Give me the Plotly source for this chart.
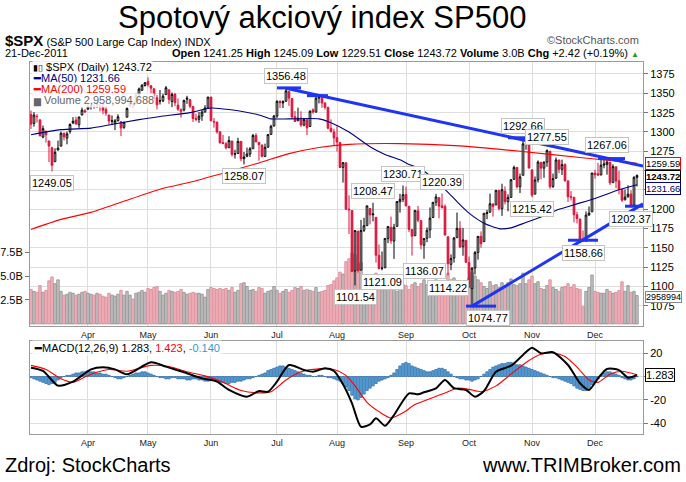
import plotly.graph_objects as go

FONT = "Liberation Sans, Arial, sans-serif"
W, H = 686, 482

# ---------------- data ----------------
trading_days = {
    3: [7, 8, 9, 10, 11, 14, 15, 16, 17, 18, 21, 22, 23, 24, 25, 28, 29, 30, 31],
    4: [1, 4, 5, 6, 7, 8, 11, 12, 13, 14, 15, 18, 19, 20, 21, 25, 26, 27, 28, 29],
    5: [2, 3, 4, 5, 6, 9, 10, 11, 12, 13, 16, 17, 18, 19, 20, 23, 24, 25, 26, 27, 31],
    6: [1, 2, 3, 6, 7, 8, 9, 10, 13, 14, 15, 16, 17, 20, 21, 22, 23, 24, 27, 28, 29, 30],
    7: [1, 5, 6, 7, 8, 11, 12, 13, 14, 15, 18, 19, 20, 21, 22, 25, 26, 27, 28, 29],
    8: [1, 2, 3, 4, 5, 8, 9, 10, 11, 12, 15, 16, 17, 18, 19, 22, 23, 24, 25, 26, 29, 30, 31],
    9: [1, 2, 6, 7, 8, 9, 12, 13, 14, 15, 16, 19, 20, 21, 22, 23, 26, 27, 28, 29, 30],
    10: [3, 4, 5, 6, 7, 10, 11, 12, 13, 14, 17, 18, 19, 20, 21, 24, 25, 26, 27, 28, 31],
    11: [1, 2, 3, 4, 7, 8, 9, 10, 11, 14, 15, 16, 17, 18, 21, 22, 23, 25, 28, 29, 30],
    12: [1, 2, 5, 6, 7, 8, 9, 12, 13, 14, 15, 16, 19, 20, 21],
}
pad_days = ["2011-12-22", "2011-12-23"]
prev_close = 1321.15

opens = [
    1322.70, 1311.05, 1319.92, 1315.72, 1293.43, 1301.19, 1288.46, 1279.46, 1261.61, 1276.71, 1281.65, 1298.29, 1292.19, 1300.61, 1311.80, 1315.45, 1309.37, 1321.89, 1327.44,
    1329.48, 1333.56, 1332.03, 1335.94, 1334.82, 1336.16, 1329.01, 1321.96, 1314.03, 1311.13, 1314.54, 1313.35, 1305.99, 1319.12, 1333.23, 1337.14, 1336.75, 1348.43, 1353.86, 1360.14,
    1365.21, 1359.76, 1355.90, 1344.16, 1340.24, 1340.20, 1348.34, 1354.51, 1339.39, 1348.69, 1334.77, 1326.10, 1328.54, 1342.40, 1342.00, 1333.07, 1317.70, 1316.36, 1320.64, 1325.69, 1331.10,
    1345.20, 1313.64, 1312.94, 1300.26, 1286.31, 1284.63, 1279.63, 1288.26, 1271.31, 1272.22, 1287.87, 1265.53, 1268.58, 1271.50, 1278.40, 1295.48, 1286.60, 1283.04, 1268.44, 1280.21, 1296.85, 1307.64,
    1320.64, 1339.59, 1337.56, 1339.62, 1352.39, 1343.31, 1319.61, 1314.45, 1317.74, 1308.87, 1315.94, 1307.07, 1328.66, 1325.65, 1343.80, 1344.32, 1337.39, 1331.91, 1304.84, 1300.12,
    1292.59, 1286.56, 1254.25, 1260.23, 1200.28, 1198.48, 1120.23, 1171.77, 1121.30, 1172.87, 1178.86, 1201.01, 1192.89, 1189.62, 1140.47, 1123.55, 1124.36, 1162.16, 1176.69, 1158.85, 1177.91, 1209.76, 1213.00,
    1219.12, 1203.90, 1173.97, 1165.85, 1197.98, 1185.37, 1153.50, 1162.59, 1173.32, 1189.44, 1209.21, 1214.99, 1204.50, 1203.63, 1164.55, 1128.82, 1136.91, 1163.32, 1175.39, 1151.74, 1159.93,
    1131.21, 1097.42, 1124.03, 1144.11, 1165.03, 1158.15, 1194.60, 1196.19, 1206.96, 1205.65, 1224.47, 1200.75, 1223.46, 1209.92, 1215.39, 1238.72, 1254.19, 1229.17, 1243.97, 1284.39, 1284.96,
    1251.00, 1219.62, 1238.25, 1260.82, 1253.21, 1261.12, 1275.18, 1229.59, 1240.12, 1263.85, 1251.70, 1257.81, 1236.56, 1216.19, 1215.62, 1192.98, 1187.48, 1161.41, 1158.67, 1192.56, 1196.72,
    1246.91, 1246.03, 1244.33, 1257.19, 1258.14, 1260.87, 1234.48, 1255.05, 1236.83, 1225.73, 1212.12, 1216.09, 1219.74, 1205.72, 1241.25,
]
highs = [
    1327.70, 1325.74, 1323.21, 1315.72, 1308.35, 1301.19, 1288.46, 1280.91, 1278.88, 1288.88, 1300.58, 1299.35, 1300.51, 1311.34, 1319.18, 1319.74, 1319.45, 1331.74, 1329.77,
    1337.85, 1336.74, 1338.21, 1339.38, 1338.80, 1339.46, 1333.77, 1321.96, 1321.35, 1316.79, 1322.88, 1313.35, 1312.70, 1332.66, 1337.49, 1337.55, 1349.55, 1357.49, 1361.71, 1364.56,
    1370.58, 1360.84, 1355.90, 1348.00, 1354.36, 1349.44, 1359.44, 1354.51, 1351.05, 1350.47, 1343.33, 1330.42, 1341.82, 1346.82, 1342.00, 1333.07, 1323.72, 1325.86, 1328.51, 1334.62, 1345.20,
    1345.20, 1318.03, 1312.94, 1300.26, 1296.22, 1287.04, 1294.54, 1288.26, 1277.04, 1292.50, 1287.87, 1274.11, 1279.82, 1280.42, 1297.62, 1298.61, 1286.60, 1283.93, 1284.91, 1296.80, 1309.21, 1321.97,
    1341.01, 1340.89, 1340.94, 1356.48, 1352.39, 1343.31, 1327.17, 1331.48, 1326.88, 1317.70, 1315.94, 1328.14, 1330.43, 1347.00, 1346.10, 1344.32, 1338.51, 1331.91, 1316.32, 1304.16,
    1307.38, 1286.56, 1261.20, 1260.23, 1218.11, 1198.48, 1172.88, 1171.77, 1186.29, 1189.04, 1204.49, 1201.01, 1208.47, 1189.62, 1154.54, 1145.49, 1162.35, 1178.56, 1190.68, 1181.23, 1210.28, 1220.10, 1230.71,
    1229.29, 1203.90, 1173.97, 1198.62, 1204.40, 1185.37, 1162.52, 1176.41, 1202.38, 1209.11, 1220.06, 1214.99, 1220.39, 1206.30, 1164.55, 1141.72, 1164.19, 1195.86, 1184.71, 1175.87, 1159.93,
    1138.99, 1125.12, 1146.07, 1165.55, 1171.40, 1194.91, 1199.24, 1220.25, 1207.46, 1224.61, 1224.47, 1233.10, 1229.64, 1219.36, 1239.03, 1256.55, 1254.19, 1246.28, 1292.66, 1287.08, 1284.96,
    1251.00, 1242.48, 1263.21, 1260.82, 1261.70, 1277.55, 1275.18, 1246.22, 1266.98, 1263.85, 1264.25, 1259.61, 1237.73, 1223.51, 1215.62, 1196.81, 1187.48, 1172.66, 1197.35, 1203.67, 1247.11,
    1251.09, 1260.08, 1266.73, 1266.03, 1267.06, 1260.87, 1258.25, 1255.05, 1249.86, 1225.73, 1225.60, 1231.04, 1224.57, 1242.82, 1245.09,
]
lows = [
    1303.99, 1306.86, 1312.27, 1294.21, 1291.99, 1286.37, 1261.12, 1249.05, 1261.61, 1276.18, 1281.65, 1289.20, 1284.05, 1297.74, 1310.15, 1310.19, 1305.26, 1321.89, 1325.03,
    1328.89, 1329.10, 1330.03, 1331.09, 1326.56, 1322.94, 1321.06, 1309.51, 1309.19, 1302.42, 1313.68, 1294.70, 1303.97, 1319.12, 1332.23, 1331.47, 1336.75, 1344.25, 1353.60, 1358.69,
    1358.59, 1349.52, 1341.50, 1329.17, 1335.58, 1338.64, 1348.34, 1336.36, 1332.03, 1333.36, 1327.32, 1318.51, 1326.59, 1336.36, 1330.67, 1312.88, 1313.87, 1311.80, 1314.41, 1325.69, 1331.10,
    1313.71, 1305.61, 1297.90, 1284.72, 1284.74, 1277.42, 1279.63, 1268.28, 1265.64, 1272.22, 1261.90, 1258.07, 1267.40, 1267.56, 1278.40, 1286.79, 1262.87, 1267.24, 1267.53, 1280.21, 1296.85, 1307.64,
    1318.18, 1330.92, 1330.92, 1339.62, 1333.71, 1316.42, 1313.33, 1314.45, 1306.51, 1307.35, 1295.92, 1307.07, 1323.65, 1325.65, 1336.95, 1331.09, 1329.10, 1303.49, 1299.16, 1282.86,
    1274.73, 1254.03, 1234.56, 1199.54, 1168.09, 1119.28, 1101.54, 1118.01, 1121.30, 1170.74, 1178.86, 1180.53, 1184.36, 1131.03, 1122.05, 1121.09, 1124.36, 1156.30, 1155.47, 1135.91, 1177.91, 1195.77, 1209.35,
    1203.85, 1170.56, 1140.13, 1165.85, 1183.34, 1148.37, 1136.07, 1157.44, 1162.73, 1189.44, 1204.46, 1188.36, 1201.29, 1166.21, 1114.22, 1121.36, 1131.07, 1163.32, 1150.40, 1139.93, 1131.34,
    1098.92, 1074.77, 1115.68, 1134.95, 1150.26, 1158.15, 1187.30, 1196.19, 1190.58, 1205.65, 1198.55, 1191.48, 1206.31, 1197.34, 1215.39, 1238.72, 1226.79, 1221.06, 1243.97, 1277.01, 1253.16,
    1215.42, 1219.62, 1234.81, 1238.92, 1240.75, 1254.99, 1226.64, 1227.70, 1240.12, 1246.68, 1244.34, 1235.67, 1209.43, 1211.36, 1183.16, 1181.65, 1161.79, 1158.66, 1158.67, 1191.80, 1196.72,
    1239.73, 1243.35, 1244.33, 1253.03, 1244.80, 1231.47, 1234.48, 1227.25, 1219.43, 1209.47, 1212.12, 1215.20, 1202.37, 1205.72, 1229.51,
]
closes = [
    1310.13, 1321.82, 1320.02, 1295.11, 1304.28, 1296.39, 1281.87, 1256.88, 1273.72, 1279.20, 1298.38, 1293.77, 1297.54, 1309.66, 1313.80, 1310.19, 1319.44, 1328.26, 1325.83,
    1332.41, 1332.87, 1332.63, 1335.54, 1333.51, 1328.17, 1324.46, 1314.16, 1314.41, 1314.52, 1319.68, 1305.14, 1312.62, 1330.36, 1337.38, 1335.25, 1347.24, 1355.66, 1360.48, 1363.61,
    1361.22, 1356.62, 1347.32, 1335.10, 1340.20, 1346.29, 1357.16, 1342.08, 1348.65, 1337.77, 1329.47, 1328.98, 1340.68, 1343.60, 1333.27, 1317.37, 1316.28, 1320.47, 1325.69, 1331.10, 1345.20,
    1314.55, 1312.94, 1300.16, 1286.17, 1284.94, 1279.56, 1289.00, 1270.98, 1271.83, 1287.87, 1265.42, 1267.64, 1271.50, 1278.36, 1295.52, 1287.14, 1283.50, 1268.45, 1280.10, 1296.67, 1307.41, 1320.64,
    1339.67, 1337.88, 1339.22, 1353.22, 1343.80, 1319.49, 1313.64, 1317.72, 1308.87, 1316.14, 1305.44, 1326.73, 1325.84, 1343.80, 1345.02, 1337.43, 1331.94, 1304.89, 1300.67, 1292.28,
    1286.94, 1254.05, 1260.34, 1200.07, 1199.38, 1119.46, 1172.53, 1120.76, 1172.64, 1178.81, 1204.49, 1192.76, 1193.89, 1140.65, 1123.53, 1123.82, 1162.35, 1177.60, 1159.27, 1176.80, 1210.08, 1212.92, 1218.89,
    1204.42, 1173.97, 1165.24, 1198.62, 1185.90, 1154.23, 1162.27, 1172.87, 1188.68, 1209.11, 1216.01, 1204.09, 1202.09, 1166.76, 1129.56, 1136.43, 1162.95, 1175.38, 1151.06, 1160.40, 1131.42,
    1099.23, 1123.95, 1144.03, 1164.97, 1155.46, 1194.89, 1195.54, 1207.25, 1203.66, 1224.58, 1200.86, 1225.38, 1209.88, 1215.39, 1238.25, 1254.19, 1229.05, 1242.00, 1284.59, 1285.09, 1253.30,
    1218.28, 1237.90, 1261.15, 1253.23, 1261.12, 1275.92, 1229.10, 1239.70, 1263.85, 1251.78, 1257.81, 1236.91, 1216.13, 1215.65, 1192.98, 1188.04, 1161.79, 1158.67, 1192.55, 1195.19, 1246.96,
    1244.58, 1244.28, 1257.08, 1258.47, 1261.01, 1234.35, 1255.19, 1236.47, 1225.73, 1211.82, 1215.75, 1219.66, 1205.35, 1241.30, 1243.72,
]
volume_b = [
    3.6, 3.4, 3.3, 4.0, 3.3, 3.5, 4.5, 4.9, 4.2, 4.6, 3.4, 3.0, 3.1, 3.3, 3.2, 3.0, 3.1, 3.3, 3.4,
    3.2, 3.1, 3.0, 3.2, 3.1, 2.9, 2.8, 3.2, 3.0, 2.9, 3.1, 3.5, 3.0, 3.4, 3.0, 2.6, 3.2, 3.3, 3.5, 3.3,
    3.7, 3.6, 3.8, 3.9, 3.4, 3.0, 3.2, 3.5, 3.4, 3.3, 3.4, 3.6, 3.3, 3.1, 3.2, 3.3, 3.2, 3.2, 3.1, 2.8, 3.6,
    3.8, 3.7, 3.6, 3.7, 3.6, 3.7, 3.5, 3.8, 3.3, 3.5, 4.2, 4.3, 3.9, 3.5, 3.6, 3.4, 3.8, 3.7, 3.2, 3.4, 3.5, 3.9,
    3.5, 3.2, 3.4, 3.6, 3.3, 3.5, 3.8, 3.7, 3.9, 3.5, 3.6, 3.5, 3.4, 3.8, 3.3, 3.4, 3.5, 4.0, 4.1, 4.5,
    4.8, 5.4, 5.2, 6.5, 6.8, 7.4, 7.2, 6.2, 6.4, 4.7, 4.5, 4.8, 4.2, 5.3, 4.9, 4.0, 4.6, 4.4, 4.3, 3.8, 3.4, 3.7, 4.1,
    4.0, 3.6, 4.1, 4.3, 3.9, 4.2, 4.6, 4.1, 4.3, 4.0, 4.6, 4.1, 4.2, 4.5, 5.3, 4.6, 4.8, 4.4, 4.4, 4.5, 4.1,
    4.8, 5.4, 5.0, 4.6, 4.3, 3.9, 3.7, 4.4, 4.0, 4.1, 3.8, 4.3, 4.0, 4.3, 4.7, 4.1, 4.0, 4.2, 5.3, 4.2, 4.6,
    5.0, 4.2, 4.4, 3.7, 3.6, 4.0, 4.6, 3.8, 3.6, 3.4, 3.8, 3.9, 4.2, 3.8, 4.1, 3.7, 3.6, 1.8, 3.4, 3.8, 5.1,
    3.4, 3.3, 3.2, 3.2, 3.6, 3.4, 3.2, 3.3, 3.5, 4.4, 3.4, 4.0, 3.3, 3.4, 2.959,
]
# moving averages (trading-day index, value)
ma50_idx = [0, 10, 20, 26, 36, 43, 53, 60, 66, 76, 80, 86, 96, 100, 106, 113, 118, 123, 126, 130, 134, 139, 143, 146, 151, 156, 160, 165, 170, 176, 182, 188, 195, 202]
ma50_val = [1296.5, 1303, 1305, 1309, 1316, 1320, 1325, 1331, 1329, 1322, 1317, 1317, 1317, 1312, 1300, 1281, 1271, 1264, 1258, 1252, 1240, 1222, 1206, 1195, 1182, 1175, 1176, 1183, 1190, 1200, 1207, 1214, 1224, 1231.66]
ma200_idx = [0, 10, 20, 30, 43, 53, 66, 76, 86, 96, 106, 123, 143, 163, 183, 202]
ma200_val = [1174, 1187, 1196, 1209, 1226, 1235, 1249, 1260, 1272, 1280, 1284, 1285, 1282, 1275, 1267, 1259.59]
# MACD(12,26,9)
macd_idx = [0, 4, 9, 14, 20, 24, 28, 32, 40, 45, 51, 57, 62, 66, 72, 76, 79, 82, 86, 91, 94, 98, 101, 104, 107, 110, 113, 115, 118, 121, 126, 129, 131, 135, 138, 141, 145, 148, 151, 155, 160, 164, 167, 170, 174, 179, 183, 186, 189, 192, 196, 199, 202]
macd_val = [7.5, 4.7, -7.8, -4.4, 6.1, 7.8, 6.1, 1.9, 12.1, 8.4, 3.6, -1.6, -4.4, -11.5, -17.2, -12.4, -13, -4.4, 9.8, 5.6, 4.1, 7, 4.7, -6.7, -22.9, -42.9, -40.9, -35.7, -42, -32.9, -14.4, -15.2, -13.5, -10.1, -3, -10, -11.5, -17.2, -12.4, 4.1, 9.2, 18.4, 24.6, 19.8, 20.7, 9.8, -5.8, -11.5, -1.6, 6.4, 5.5, -1, 1.283]
sig_idx = [0, 5, 10, 14, 20, 26, 32, 40, 46, 52, 58, 64, 70, 76, 80, 85, 90, 96, 101, 105, 108, 112, 116, 120, 124, 128, 133, 138, 142, 146, 150, 155, 160, 165, 170, 174, 178, 182, 186, 189, 193, 197, 202]
sig_val = [9.5, 6, -2, -5, 2, 6, 4.5, 9.5, 8.5, 4, 0.5, -5, -12, -14, -13, -3, 4, 6.5, 6, 1, -8, -22, -30, -35.5, -31, -24, -19, -14, -10, -11, -13, -8, 2, 12, 19, 20, 17, 8, -3, -5, 2, 4.5, 1.423]
hist_val = [
    -1, -2, -3, -4, -5, -6, -7, -6, -5, -3,
    -1, 0, 1, 1, 2,
    3, 3, 4, 4, 5, 4, 4, 3, 3, 2, 2,
    1, 0, -1, -2, -2, -1, 0,
    1, 2, 3, 3, 4, 4, 3, 2,
    1, 0, -1, -1, -2, -2, -1, -1, -2, -2,
    -2, -3, -3, -2, -2, -3, -3, -4, -4, -3,
    -3, -4, -5, -5, -6, -6, -5, -5, -4, -4,
    -3, -2, -2, -1, 0, 1, 2, 3,
    5, 6, 7, 8, 9, 9, 8, 7,
    6, 5, 4, 3, 2, 1,
    1, 0, 0, 1, 1, 0, -1, -1,
    -2, -3, -4, -6,
    -9, -12, -16, -19, -20, -18, -15, -12,
    -10, -8, -6, -4, -3, -2,
    -1, 1, 3, 6, 9, 11, 12, 11,
    9, 8, 7, 6, 5, 4, 4, 5,
    6, 7, 7, 6, 4, 2,
    0, -1, -2, -2, -3, -3,
    -4, -3, -2, 0,
    2, 4, 6, 8, 9, 10,
    11, 11, 12, 12, 11, 10, 10, 9, 8, 7,
    6, 5, 4, 3, 2, 1,
    0, -1, -1, -2, -3, -4,
    -5, -6, -8, -10, -11, -12, -12, -10,
    -7, -5, -2, 1,
    3, 4, 4, 3, 2, 1,
    -1, -2, -3, -3, -2, -0.14,
]
# analyst trend lines (date, price)
trend_lines = [
    (["2011-07-07", "2011-12-23"], [1356.48, 1256.0]),
    (["2011-10-04", "2011-12-23"], [1074.77, 1207.0]),
]
level_marks = [
    ("2011-07-01", "2011-07-14", 1357.0),
    ("2011-07-18", "2011-07-27", 1347.0),
    ("2011-10-20", "2011-11-02", 1292.5),
    ("2011-12-02", "2011-12-15", 1265.6),
    ("2011-09-30", "2011-10-14", 1074.8),
    ("2011-11-17", "2011-12-02", 1160.0),
    ("2011-12-15", "2011-12-23", 1204.0),
]
# peak / trough labels (date, high or low, horizontal nudge in px)
point_labels = [
    ("2011-03-16", "L", 0), ("2011-06-16", "L", 0), ("2011-07-07", "H", 0), ("2011-08-09", "L", 0),
    ("2011-08-17", "H", 0), ("2011-08-22", "L", 0), ("2011-08-31", "H", 0), ("2011-09-12", "L", 0),
    ("2011-09-20", "H", 0), ("2011-09-22", "L", 0), ("2011-10-04", "L", 16), ("2011-10-27", "H", 0),
    ("2011-11-01", "L", 0), ("2011-11-08", "H", 0), ("2011-11-25", "L", 0), ("2011-12-07", "H", 0),
    ("2011-12-19", "L", 0),
]
month_names = ["Apr", "May", "Jun", "Jul", "Aug", "Sep", "Oct", "Nov", "Dec"]
price_ticks = [1075, 1100, 1125, 1150, 1175, 1200, 1225, 1250, 1275, 1300, 1325, 1350, 1375]
price_tick_text = ["1075", "1100", "1125", "1150", "1175", "1200", "1225", "", "1275", "1300", "1325", "1350", "1375"]

# ---------------- derived ----------------
dates = [f"2011-{m:02d}-{d:02d}" for m in sorted(trading_days) for d in trading_days[m]]
categories = dates + pad_days
month_ticks = [f"2011-{m:02d}-{trading_days[m][0]:02d}" for m in range(4, 13)]
prevs = [prev_close] + closes[:-1]
up = [c >= p for c, p in zip(closes, prevs)]
volumes = [v * 1e9 for v in volume_b]
idx_of = {d: i for i, d in enumerate(dates)}

RED = "#dc143c"


def px(x):
    return x / W


def py(y):
    return 1 - y / H


fig = go.Figure()

# volume bars (base y axis)
fig.add_trace(go.Bar(
    x=dates, y=volumes, xaxis="x", yaxis="y",
    marker=dict(color=["#c3c3c3" if u else "#f0b4bc" for u in up],
                line=dict(color=["#8c8c8c" if u else "#d88694" for u in up], width=0.8)),
    hoverinfo="skip", showlegend=False,
))

# moving averages
fig.add_trace(go.Scatter(x=[dates[i] for i in ma200_idx], y=ma200_val, mode="lines",
                         line=dict(color="#ff0000", width=1.1, shape="spline", smoothing=0.6),
                         xaxis="x", yaxis="y2", hoverinfo="skip", showlegend=False))
fig.add_trace(go.Scatter(x=[dates[i] for i in ma50_idx], y=ma50_val, mode="lines",
                         line=dict(color="#000080", width=1.1, shape="spline", smoothing=0.6),
                         xaxis="x", yaxis="y2", hoverinfo="skip", showlegend=False))

# candles: black when close >= previous close, red otherwise; hollow when close > open
for flag, col in [(True, "black"), (False, RED)]:
    sel = [i for i in range(len(dates)) if up[i] == flag]
    fig.add_trace(go.Candlestick(
        x=[dates[i] for i in sel],
        open=[opens[i] for i in sel], high=[highs[i] for i in sel],
        low=[lows[i] for i in sel], close=[closes[i] for i in sel],
        increasing=dict(line=dict(color=col, width=1), fillcolor="white"),
        decreasing=dict(line=dict(color=col, width=1), fillcolor=col),
        whiskerwidth=0, xaxis="x", yaxis="y2", hoverinfo="skip", showlegend=False,
    ))

# trend lines and level marks
for xs, ys in trend_lines:
    fig.add_trace(go.Scatter(x=xs, y=ys, mode="lines", line=dict(color="#1f35f0", width=3),
                             xaxis="x", yaxis="y2", hoverinfo="skip", showlegend=False))
for d0, d1, lvl in level_marks:
    fig.add_trace(go.Scatter(x=[d0, d1], y=[lvl, lvl], mode="lines", line=dict(color="#1f35f0", width=3),
                             xaxis="x", yaxis="y2", hoverinfo="skip", showlegend=False))

# MACD panel
fig.add_trace(go.Bar(x=dates, y=hist_val, xaxis="x2", yaxis="y3",
                     marker=dict(color="#5aa2dc", line=dict(color="#2866a0", width=0.7)),
                     hoverinfo="skip", showlegend=False))
fig.add_trace(go.Scatter(x=[dates[i] for i in sig_idx], y=sig_val, mode="lines",
                         line=dict(color="#ff0000", width=1.1, shape="spline", smoothing=0.7),
                         xaxis="x2", yaxis="y3", hoverinfo="skip", showlegend=False))
fig.add_trace(go.Scatter(x=[dates[i] for i in macd_idx], y=macd_val, mode="lines",
                         line=dict(color="black", width=2, shape="spline", smoothing=0.7),
                         xaxis="x2", yaxis="y3", hoverinfo="skip", showlegend=False))

# ---------------- annotations ----------------
ann = []
small = dict(family=FONT, size=11, color="black")
box = dict(family=FONT, size=9.5, color="black")
for d, kind, dx in point_labels:
    i = idx_of[d]
    val = highs[i] if kind == "H" else lows[i]
    ann.append(dict(x=d, y=val, xref="x", yref="y2", text=f"{val:.2f}", showarrow=False,
                    xshift=dx, yshift=12 if kind == "H" else -12, bgcolor="white", bordercolor="#c4c4c4",
                    borderwidth=1, borderpad=1, font=small))

# header
ann.append(dict(x=px(322), y=py(18), xref="paper", yref="paper", text="Spotový akciový index SP500",
                showarrow=False, xanchor="center", yanchor="middle",
                font=dict(family=FONT, size=31, color="black")))
ann.append(dict(x=px(3), y=py(40), xref="paper", yref="paper",
                text="<b><span style='font-size:15px'>$SPX</span></b> (S&amp;P 500 Large Cap Index) INDX",
                showarrow=False, xanchor="left", yanchor="middle", font=dict(family=FONT, size=11, color="black")))
ann.append(dict(x=px(641), y=py(40), xref="paper", yref="paper", text="©StockCharts.com",
                showarrow=False, xanchor="right", yanchor="middle", font=dict(family=FONT, size=11, color="#555")))
ann.append(dict(x=px(3), y=py(53), xref="paper", yref="paper", text="21-Dec-2011",
                showarrow=False, xanchor="left", yanchor="middle", font=dict(family=FONT, size=11, color="black")))
ann.append(dict(x=px(641), y=py(53), xref="paper", yref="paper",
                text="<b>Open</b> 1241.25 <b>High</b> 1245.09 <b>Low</b> 1229.51 <b>Close</b> 1243.72 "
                     "<b>Volume</b> 3.0B <b>Chg</b> +2.42 (+0.19%) <span style='color:#2a9a2a;font-size:8px'>▲</span>",
                showarrow=False, xanchor="right", yanchor="middle", font=dict(family=FONT, size=11, color="black")))

# legend in price panel
leg = [
    (67, "<span style='font-size:9px'>▮▯</span> $SPX (Daily) 1243.72", "black"),
    (78, "<b>━</b>MA(50) 1231.66", "#000080"),
    (89, "<b>━</b>MA(200) 1259.59", "#ff0000"),
    (100, "<span style='font-size:9px'>▆</span> Volume 2,958,994,688", "#666666"),
]
for yy, txt, col in leg:
    ann.append(dict(x=px(32), y=py(yy), xref="paper", yref="paper", text=txt, showarrow=False,
                    xanchor="left", yanchor="middle", bgcolor="rgba(255,255,255,0.85)", borderpad=0,
                    font=dict(family=FONT, size=11, color=col)))
ann.append(dict(x=px(32), y=py(348), xref="paper", yref="paper",
                text="<b>━</b>MACD(12,26,9) 1.283, <span style='color:#ff0000'>1.423</span>, "
                     "<span style='color:#3399cc'>-0.140</span>",
                showarrow=False, xanchor="left", yanchor="middle", bgcolor="rgba(255,255,255,0.85)",
                font=dict(family=FONT, size=11, color="black")))

# right-side value boxes (stacked like the reference)
ann.append(dict(x=px(645), y=ma200_val[-1], xref="paper", yref="y2", text=f"{ma200_val[-1]:.2f}",
                showarrow=False, xanchor="left", yanchor="middle", yshift=0, bgcolor="white", bordercolor="#ff0000",
                borderwidth=1, borderpad=0, font=box))
ann.append(dict(x=px(645), y=closes[-1], xref="paper", yref="y2", text=f"<b>{closes[-1]:.2f}</b>",
                showarrow=False, xanchor="left", yanchor="middle", yshift=-0.5, bgcolor="white", bordercolor="black",
                borderwidth=1, borderpad=0, font=box))
ann.append(dict(x=px(645), y=ma50_val[-1], xref="paper", yref="y2", text=f"{ma50_val[-1]:.2f}",
                showarrow=False, xanchor="left", yanchor="middle", yshift=-3.5, bgcolor="white", bordercolor="#000080",
                borderwidth=1, borderpad=0, font=dict(family=FONT, size=9.5, color="#000060")))
ann.append(dict(x=px(645), y=volumes[-1], xref="paper", yref="y", text="2958994",
                showarrow=False, xanchor="left", yanchor="middle", yshift=-1, bgcolor="white", bordercolor="#888",
                borderwidth=1, borderpad=0, font=dict(family=FONT, size=9, color="black")))
ann.append(dict(x=px(645), y=macd_val[-1], xref="paper", yref="y3", text=f"{macd_val[-1]:.3f}",
                showarrow=False, xanchor="left", yanchor="middle", bgcolor="white", bordercolor="black",
                borderwidth=1, borderpad=0, font=small))

# footer
ann.append(dict(x=px(3), y=py(465), xref="paper", yref="paper", text="Zdroj: StockCharts",
                showarrow=False, xanchor="left", yanchor="middle", font=dict(family=FONT, size=20, color="black")))
ann.append(dict(x=px(683), y=py(465), xref="paper", yref="paper", text="www.TRIMBroker.com",
                showarrow=False, xanchor="right", yanchor="middle", font=dict(family=FONT, size=20, color="black")))

GRID = "#dedede"
AXLINE = "#9a9a9a"
xcommon = dict(type="category", categoryorder="array", categoryarray=categories,
               range=[-0.33, 204.0], tickmode="array", tickvals=month_ticks, ticktext=month_names,
               showgrid=True, gridcolor=GRID, gridwidth=1, showline=True, linecolor=AXLINE, mirror=True,
               ticks="", tickfont=dict(family=FONT, size=9, color="#222"), zeroline=False,
               rangeslider=dict(visible=False), fixedrange=True)

fig.update_layout(
    width=W, height=H, margin=dict(l=0, r=0, t=0, b=0),
    paper_bgcolor="white", plot_bgcolor="white",
    showlegend=False, bargap=0.18, boxgap=0.2,
    font=dict(family=FONT, size=11, color="black"),
    xaxis=dict(domain=[px(30), px(643)], anchor="y", **xcommon),
    xaxis2=dict(domain=[px(30), px(643)], anchor="y3", **xcommon),
    yaxis=dict(domain=[py(326), py(62)], range=[-0.21e9, 27.3e9], side="left",
               tickmode="array", tickvals=[2.5e9, 5e9, 7.5e9], ticktext=["2.5B", "5.0B", "7.5B"],
               showgrid=False, zeroline=False, ticks="outside", ticklen=4, tickcolor="#777",
               showline=True, linecolor=AXLINE, tickfont=dict(family=FONT, size=11, color="black"),
               fixedrange=True),
    yaxis2=dict(overlaying="y", anchor="x", side="right", range=[1049.1, 1390.5],
                tickmode="array", tickvals=price_ticks, ticktext=price_tick_text, showgrid=True, gridcolor=GRID,
                zeroline=False, ticks="outside", ticklen=4, tickcolor="#777",
                showline=True, linecolor=AXLINE, tickfont=dict(family=FONT, size=11, color="black"),
                fixedrange=True),
    yaxis3=dict(domain=[py(434), py(341)], anchor="x2", side="right", range=[-49.1, 30.3],
                tickmode="array", tickvals=[20, 0, -20, -40], ticktext=["20", "", "-20", "-40"],
                showgrid=True, gridcolor=GRID, zeroline=False, ticks="outside", ticklen=4, tickcolor="#777",
                showline=True, linecolor=AXLINE, mirror=True, tickfont=dict(family=FONT, size=11, color="black"),
                fixedrange=True),
    annotations=ann,
)

fig.write_html("out.html", config={"displayModeBar": False, "staticPlot": True})
